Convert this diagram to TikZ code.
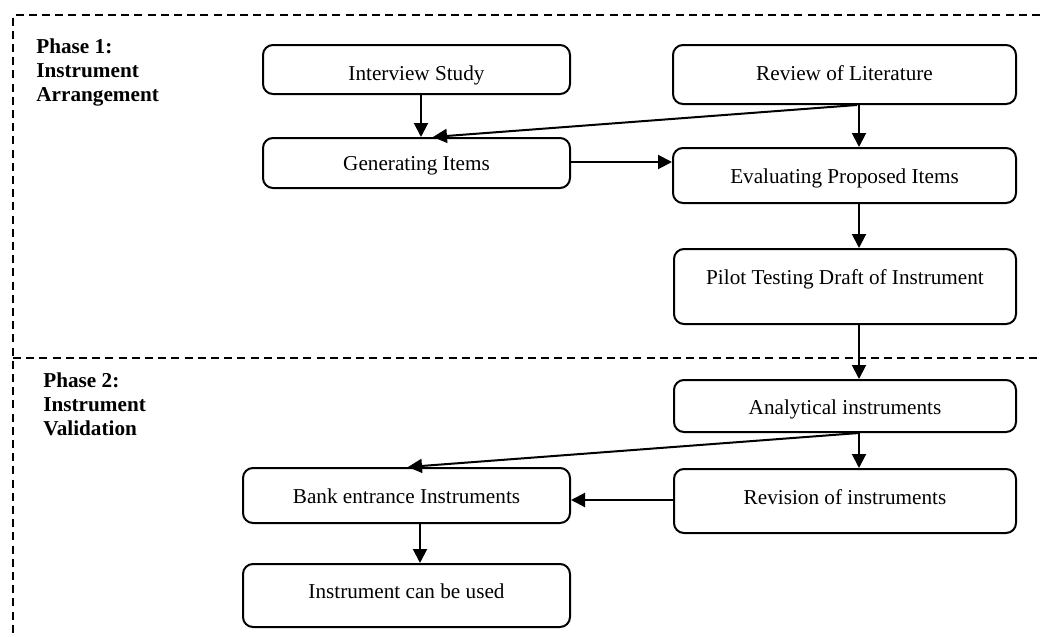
\documentclass[tikz,border=0pt]{standalone}
\usepackage{fontspec}
\setmainfont{Liberation Serif}
\usetikzlibrary{arrows.meta,calc}
\tikzset{
  boxnode/.style={draw, line width=1pt, rounded corners=5pt, inner sep=0pt, anchor=base,
    font=\fontsize{10.6}{12}\selectfont},
  arr/.style={line width=1pt, -{Triangle[length=7pt,width=7pt]}},
  plain/.style={line width=1pt},
  frame/.style={line width=0.75pt, dash pattern=on 4pt off 2.6pt},
  phase/.style={anchor=north west, inner sep=0pt, align=left,
    font=\fontsize{10.6}{12}\selectfont\bfseries}
}
\begin{document}
\begin{tikzpicture}[x=0.5pt,y=-0.5pt]
\useasboundingbox (0,0) rectangle (1040,637);
% frame
\coordinate (ftr) at (1040,15);
\coordinate (ftl) at (13,15);
\coordinate (fbl) at (13,637);
\coordinate (fml) at (13,358);
\coordinate (fmr) at (1040,358);
\draw[frame] (ftr) -- (ftl) -- (fbl);
\draw[frame] (fml) -- (fmr);
% phase labels
\node[phase] (ph1) at (36,38.5) {Phase 1:\\Instrument\\Arrangement};
\node[phase] (ph2) at (43,372.5) {Phase 2:\\Instrument\\Validation};
% boxes
\node[boxnode, minimum width=153.5pt, text height=17.5pt, text depth=7pt] (interview) at (416.5,80) {Interview Study};
\node[boxnode, minimum width=171.5pt, text height=17.5pt, text depth=12pt] (review) at (844.5,80) {Review of Literature};
\node[boxnode, minimum width=153.5pt, text height=16pt, text depth=9pt] (gen) at (416.5,170) {Generating Items};
\node[boxnode, minimum width=171.5pt, text height=17.5pt, text depth=10pt] (eval) at (844.5,183) {Evaluating Proposed Items};
\node[boxnode, minimum width=171pt, text height=17.5pt, text depth=20pt] (pilot) at (845,284) {Pilot Testing Draft of Instrument};
\node[boxnode, minimum width=171pt, text height=17pt, text depth=9pt] (anal) at (845,414) {Analytical instruments};
\node[boxnode, minimum width=171pt, text height=17.5pt, text depth=14.5pt] (rev) at (845,504) {Revision of instruments};
\node[boxnode, minimum width=163.5pt, text height=17.5pt, text depth=10pt] (bank) at (406.5,503) {Bank entrance Instruments};
\node[boxnode, minimum width=163.5pt, text height=17pt, text depth=14.5pt] (use) at (406.5,598) {Instrument can be used};
% connectors
\draw[arr] ([xshift=2.25pt]interview.south) -- ([xshift=2.25pt]gen.north);
\draw[arr] ([xshift=7.25pt]review.south) -- ([xshift=7.25pt]eval.north);
\draw[arr] ([xshift=6.25pt]review.south) -- ([xshift=8.25pt]gen.north);
\draw[arr] ([yshift=0.5pt]gen.east) -- ([yshift=0.5pt]gen.east -| eval.west);
\draw[arr] ([xshift=7.25pt]eval.south) -- ([xshift=7pt]pilot.north);
\draw[arr] ([xshift=7pt]pilot.south) -- ([xshift=7pt]anal.north);
\draw[arr] ([xshift=7pt]anal.south) -- ([xshift=7pt]rev.north);
\draw[arr] ([xshift=7pt]anal.south) -- ([xshift=0.75pt]bank.north);
\draw[arr] ([yshift=0.5pt]rev.west) -- ([yshift=0.5pt]rev.west -| bank.east);
\draw[arr] ([xshift=6.75pt]bank.south) -- ([xshift=6.75pt]use.north);
\end{tikzpicture}
\end{document}
